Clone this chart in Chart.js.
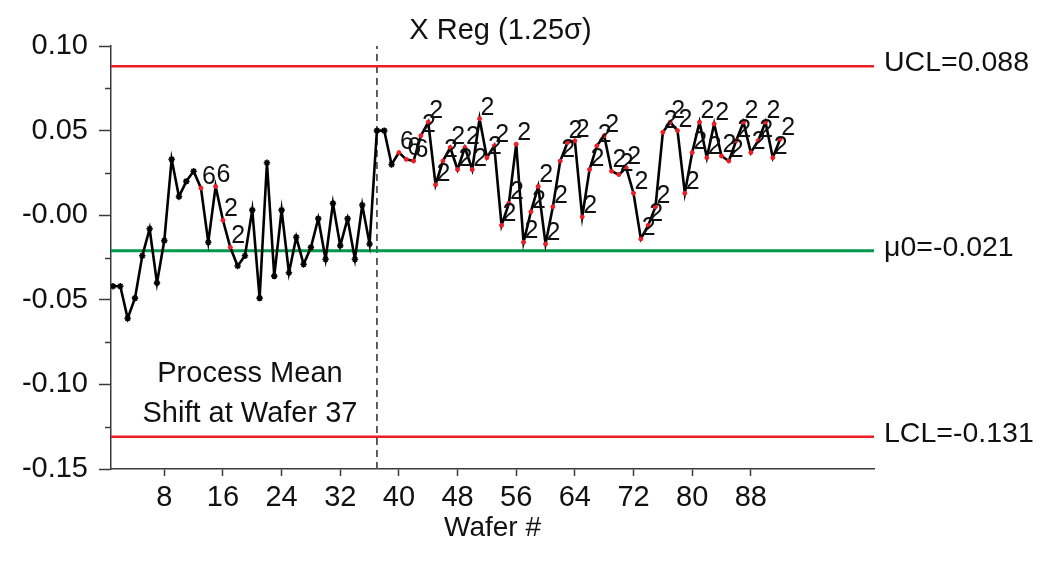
<!DOCTYPE html>
<html>
<head>
<meta charset="utf-8">
<script src="https://cdn.jsdelivr.net/npm/chart.js@4.4.0/dist/chart.umd.min.js"></script>
<style>
  html, body { margin: 0; padding: 0; background: #fff; }
  #wrap { width: 1042px; height: 565px; }
</style>
</head>
<body>
<div id="wrap"><canvas id="chart"></canvas></div>
<script>
// X Reg values per wafer (wafer 1..92)
const xReg = [
  -0.042, -0.042, -0.061, -0.049, -0.024, -0.008, -0.040, -0.015, 0.033, 0.011,
   0.020,  0.026,  0.016, -0.016,  0.017, -0.003, -0.019, -0.030, -0.024, 0.003,
  -0.049,  0.031, -0.036,  0.003, -0.034, -0.013, -0.029, -0.019, -0.002, -0.026,
   0.007, -0.018, -0.002, -0.026,  0.006, -0.017,  0.050,  0.050,  0.030, 0.037,
   0.033,  0.032,  0.047,  0.055,  0.018,  0.032,  0.040,  0.027,  0.040, 0.027,
   0.057,  0.034,  0.041, -0.006,  0.007,  0.042, -0.016,  0.002,  0.017, -0.017,
   0.005,  0.032,  0.043,  0.044, -0.001,  0.027,  0.041,  0.047,  0.026, 0.024,
   0.028,  0.013, -0.014, -0.006,  0.005,  0.049,  0.055,  0.050,  0.013, 0.037,
   0.055,  0.034,  0.054,  0.035,  0.032,  0.044,  0.055,  0.037,  0.044, 0.055,
   0.034,  0.045
];

// run-test flags per wafer ('' = none)
const testFlags = [
  '', '', '', '', '', '', '', '', '', '',
  '', '', '6', '', '6', '2', '2', '', '', '',
  '', '', '', '', '', '', '', '', '', '',
  '', '', '', '', '', '', '', '', '', '6',
  '6', '6', '2', '2', '2', '2', '2', '2', '2', '2',
  '2', '2', '2', '2', '2', '2', '2', '2', '2', '2',
  '2', '2', '2', '2', '2', '2', '2', '2', '2', '2',
  '2', '2', '2', '2', '2', '2', '2', '2', '2', '2',
  '2', '2', '2', '2', '2', '2', '2', '2', '2', '2',
  '2', '2'
];

const limitValues = [0.088, -0.021, -0.131];
const limitLabels = ['UCL=0.088', '\u03bc0=-0.021', 'LCL=-0.131'];
const shiftWafer = 37;

const xTicks = [8, 16, 24, 32, 40, 48, 56, 64, 72, 80, 88];
const yTicks = [-0.15, -0.10, -0.05, 0.00, 0.05, 0.10];
const yTickLabels = ['-0.15', '-0.10', '-0.05', '-0.00', '0.05', '0.10'];
const yMinorTicks = [-0.125, -0.075, -0.025, 0.025, 0.075];

const X_MIN = 0.73, X_MAX = 104.8, Y_MIN = -0.15, Y_MAX = 0.10;
const FONT = '"Liberation Sans", Arial, sans-serif';
const RED = '#ee1c25';
const GREEN = '#00994c';
const AXIS = '#3a3a3a';

const points = xReg.map((v, i) => ({ x: i + 1, y: v }));
const flagged = testFlags.map(f => f !== '');

const limitSets = limitValues.map((v, i) => ({
  label: limitLabels[i],
  data: [{ x: X_MIN, y: v }, { x: X_MAX, y: v }],
  borderColor: i === 1 ? GREEN : RED,
  borderWidth: i === 1 ? 3 : 2.5,
  pointRadius: 0,
  order: 2,
}));

const shiftSet = {
  label: 'shift',
  data: [{ x: shiftWafer, y: Y_MIN }, { x: shiftWafer, y: Y_MAX }],
  borderColor: '#505050',
  borderWidth: 1.8,
  borderDash: [7, 5],
  pointRadius: 0,
  order: 3,
};

const decorations = {
  id: 'decorations',
  afterDraw(chart) {
    const { ctx, chartArea: a, scales: { x, y } } = chart;
    ctx.save();

    // minor ticks on the y axis
    ctx.strokeStyle = AXIS;
    ctx.lineWidth = 1.5;
    yMinorTicks.forEach(v => {
      const py = Math.round(y.getPixelForValue(v)) + 0.5;
      ctx.beginPath();
      ctx.moveTo(a.left - 6, py);
      ctx.lineTo(a.left, py);
      ctx.stroke();
    });

    ctx.fillStyle = '#111';

    // control limit labels at the right
    ctx.font = '28.5px ' + FONT;
    ctx.textAlign = 'left';
    ctx.textBaseline = 'middle';
    limitValues.forEach((v, i) => {
      ctx.fillText(limitLabels[i], a.right + 10, y.getPixelForValue(v) - 3);
    });

    // title
    ctx.textAlign = 'center';
    ctx.font = '29px ' + FONT;
    ctx.fillText('X Reg (1.25\u03c3)', (a.left + a.right) / 2 + 8, 31);

    // shift annotation
    const sx = x.getPixelForValue(shiftWafer);
    const cx = (a.left + sx) / 2 + 6;
    ctx.font = '29px ' + FONT;
    ctx.fillText('Process Mean', cx, y.getPixelForValue(-0.10) - 10);
    ctx.fillText('Shift at Wafer 37', cx, y.getPixelForValue(-0.10) + 30);

    // test flags next to the points
    const meta = chart.getDatasetMeta(0);
    ctx.font = '25px ' + FONT;
    ctx.textAlign = 'left';
    ctx.textBaseline = 'alphabetic';
    meta.data.forEach((pt, i) => {
      if (testFlags[i]) ctx.fillText(testFlags[i], pt.x + 1, pt.y - 4);
    });

    ctx.restore();
  }
};

new Chart(document.getElementById('chart'), {
  type: 'line',
  data: {
    datasets: [
      {
        label: 'X Reg',
        data: points,
        borderColor: '#000',
        borderWidth: 2.6,
        tension: 0,
        pointStyle: flagged.map(f => f ? 'circle' : 'star'),
        pointRadius: flagged.map(f => f ? 2 : 3.2),
        pointBorderWidth: flagged.map(f => f ? 1 : 1.6),
        pointBackgroundColor: flagged.map(f => f ? RED : '#000'),
        pointBorderColor: flagged.map(f => f ? RED : '#000'),
        order: 0,
      },
      ...limitSets,
      shiftSet,
    ],
  },
  options: {
    responsive: true,
    maintainAspectRatio: false,
    animation: false,
    layout: { padding: { top: 46, right: 168, left: 0, bottom: 20 } },
    plugins: {
      legend: { display: false },
      title: { display: false },
      tooltip: { enabled: false },
    },
    scales: {
      x: {
        type: 'linear',
        min: X_MIN,
        max: X_MAX,
        afterBuildTicks: s => { s.ticks = xTicks.map(v => ({ value: v })); },
        afterFit: s => { s.height = 76; },
        ticks: { color: '#111', font: { family: FONT, size: 29 }, padding: 5, maxRotation: 0, autoSkip: false },
        grid: { drawOnChartArea: false, drawTicks: true, tickLength: 7, tickColor: AXIS, tickWidth: 1.5 },
        border: { display: true, color: AXIS, width: 1.5 },
        title: { display: true, text: 'Wafer #', color: '#111', font: { family: FONT, size: 28 }, padding: { top: 4, bottom: 0 } },
      },
      y: {
        type: 'linear',
        min: Y_MIN,
        max: Y_MAX,
        afterBuildTicks: s => { s.ticks = yTicks.map(v => ({ value: v })); },
        afterFit: s => { s.width = 111; },
        ticks: { color: '#111', font: { family: FONT, size: 29 }, padding: 11, callback: (v, i) => yTickLabels[i] },
        grid: { drawOnChartArea: false, drawTicks: true, tickLength: 12, tickColor: AXIS, tickWidth: 1.5 },
        border: { display: true, color: AXIS, width: 1.5 },
      },
    },
  },
  plugins: [decorations],
});
</script>
</body>
</html>
